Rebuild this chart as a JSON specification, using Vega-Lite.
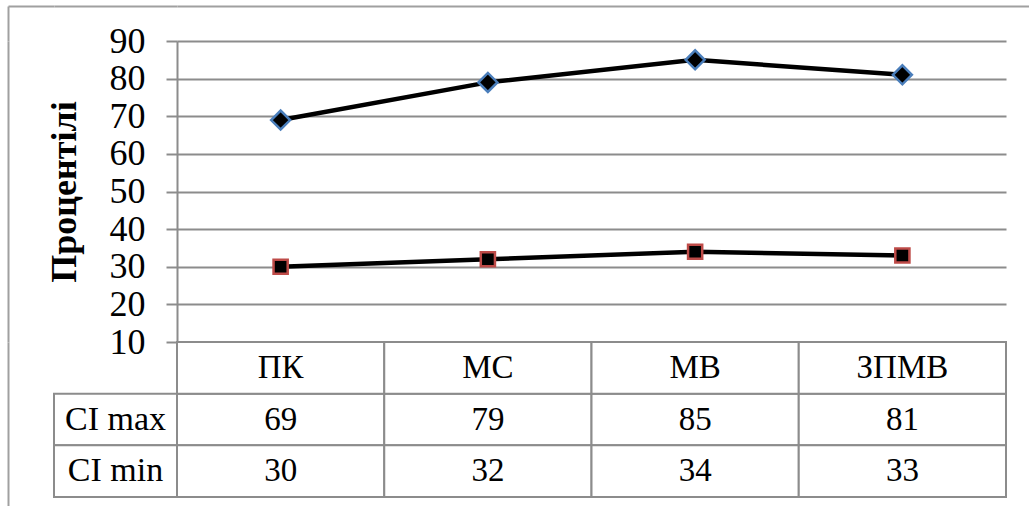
{
  "$schema": "https://vega.github.io/schema/vega-lite/v6.json",
  "padding": {"left": 8, "top": 6, "right": 0, "bottom": 0},
  "background": "white",
  "data": {
    "values": [
      {"category": "ПК", "series": "CI max", "value": 69},
      {"category": "МС", "series": "CI max", "value": 79},
      {"category": "МВ", "series": "CI max", "value": 85},
      {"category": "ЗПМВ", "series": "CI max", "value": 81},
      {"category": "ПК", "series": "CI min", "value": 30},
      {"category": "МС", "series": "CI min", "value": 32},
      {"category": "МВ", "series": "CI min", "value": 34},
      {"category": "ЗПМВ", "series": "CI min", "value": 33}
    ]
  },
  "columns": 3,
  "spacing": 0,
  "bounds": "flush",
  "concat": [
    {
      "width": 46, "height": 35,
      "mark": {"type": "text", "text": ""},
      "encoding": {
        "x": {"field": "category", "type": "nominal", "axis": {"orient": "top", "labels": false, "ticks": false, "title": null, "grid": false, "domainColor": "#a0a0a0"}},
        "y": {"field": "series", "type": "nominal", "axis": {"orient": "left", "labels": false, "ticks": false, "title": null, "grid": false, "domainColor": "#a0a0a0"}}
      }
    },
    {
      "width": 123, "height": 35,
      "mark": {"type": "text", "text": ""},
      "encoding": {
        "x": {"field": "category", "type": "nominal", "axis": {"orient": "top", "labels": false, "ticks": false, "title": null, "grid": false, "domainColor": "#a0a0a0"}}
      }
    },
    {
      "width": 860, "height": 35,
      "mark": {"type": "text", "text": ""},
      "encoding": {
        "x": {"field": "category", "type": "nominal", "axis": {"orient": "top", "labels": false, "ticks": false, "title": null, "grid": false, "domainColor": "#a0a0a0"}}
      }
    },
    {
      "width": 46, "height": 301,
      "mark": {"type": "text", "text": ""},
      "encoding": {
        "y": {"field": "series", "type": "nominal", "axis": {"orient": "left", "labels": false, "ticks": false, "title": null, "grid": false, "domainColor": "#a0a0a0"}}
      }
    },
    {"width": 123, "height": 301, "mark": {"type": "text", "text": ""}, "encoding": {}},
    {
      "width": 829,
      "height": 301,
      "encoding": {
        "x": {"field": "category", "type": "nominal", "scale": {"domain": ["ПК", "МС", "МВ", "ЗПМВ"]}, "axis": null},
        "y": {
          "field": "value",
          "type": "quantitative",
          "scale": {"domain": [10, 90], "nice": false, "zero": false},
          "axis": {
            "values": [10, 20, 30, 40, 50, 60, 70, 80, 90],
            "title": "Процентілі",
            "titleFontWeight": "bold",
            "titleFontSize": 36,
            "titlePadding": 26,
            "grid": true
          }
        }
      },
      "layer": [
        {
          "mark": {"type": "line", "color": "black", "strokeWidth": 4.5},
          "encoding": {"detail": {"field": "series"}}
        },
        {
          "transform": [{"filter": "datum.series === 'CI max'"}],
          "mark": {"type": "point", "shape": "diamond", "filled": true, "fill": "black", "stroke": "#4a7ebb", "strokeWidth": 2.5, "size": 360, "opacity": 1}
        },
        {
          "transform": [{"filter": "datum.series === 'CI min'"}],
          "mark": {"type": "point", "shape": "square", "filled": true, "fill": "black", "stroke": "#be4b48", "strokeWidth": 2.5, "size": 200, "opacity": 1}
        }
      ]
    },
    {
      "width": 46, "height": 170,
      "mark": {"type": "text", "text": ""},
      "encoding": {
        "y": {"field": "series", "type": "nominal", "axis": {"orient": "left", "labels": false, "ticks": false, "title": null, "grid": false, "domainColor": "#a0a0a0"}}
      }
    },
    {
      "width": 123,
      "height": 155,
      "transform": [{"aggregate": [{"op": "count", "as": "n"}], "groupby": ["series"]}],
      "encoding": {
        "y": {"field": "series", "type": "nominal", "scale": {"domain": ["hdr", "CI max", "CI min"], "paddingInner": 0, "paddingOuter": 0}, "axis": null}
      },
      "layer": [
        {"mark": {"type": "rect", "fill": "white", "stroke": "#8c8c8c", "strokeWidth": 2}},
        {"mark": {"type": "text", "font": "Liberation Serif", "fontSize": 34, "color": "black"}, "encoding": {"text": {"field": "series"}}}
      ]
    },
    {
      "width": 829,
      "height": 155,
      "encoding": {
        "x": {"field": "category", "type": "nominal", "scale": {"domain": ["ПК", "МС", "МВ", "ЗПМВ"], "paddingInner": 0, "paddingOuter": 0}, "axis": null}
      },
      "layer": [
        {
          "mark": {"type": "rect", "fill": "white", "stroke": "#8c8c8c", "strokeWidth": 2},
          "encoding": {"y": {"field": "series", "type": "nominal", "scale": {"domain": ["hdr", "CI max", "CI min"], "paddingInner": 0, "paddingOuter": 0}, "axis": null}}
        },
        {
          "transform": [{"filter": "datum.series === 'CI max'"}],
          "mark": {"type": "rect", "fill": "white", "stroke": "#8c8c8c", "strokeWidth": 2},
          "encoding": {"y": {"datum": "hdr", "type": "nominal"}}
        },
        {
          "mark": {"type": "text", "font": "Liberation Serif", "fontSize": 33, "color": "black"},
          "encoding": {"y": {"field": "series", "type": "nominal"}, "text": {"field": "value"}}
        },
        {
          "transform": [{"filter": "datum.series === 'CI max'"}],
          "mark": {"type": "text", "font": "Liberation Serif", "fontSize": 33, "color": "black"},
          "encoding": {"y": {"datum": "hdr", "type": "nominal"}, "text": {"field": "category"}}
        }
      ]
    }
  ],
  "config": {
    "view": {"stroke": null},
    "font": "Liberation Serif",
    "axis": {
      "labelFont": "Liberation Serif",
      "labelFontSize": 36,
      "labelColor": "black",
      "labelPadding": 21,
      "titleFont": "Liberation Serif",
      "titleColor": "black",
      "domainColor": "#8c8c8c",
      "domainWidth": 2,
      "tickColor": "#8c8c8c",
      "tickWidth": 2,
      "tickSize": 11,
      "gridColor": "#8c8c8c",
      "gridWidth": 2,
      "gridOpacity": 1
    }
  }
}
